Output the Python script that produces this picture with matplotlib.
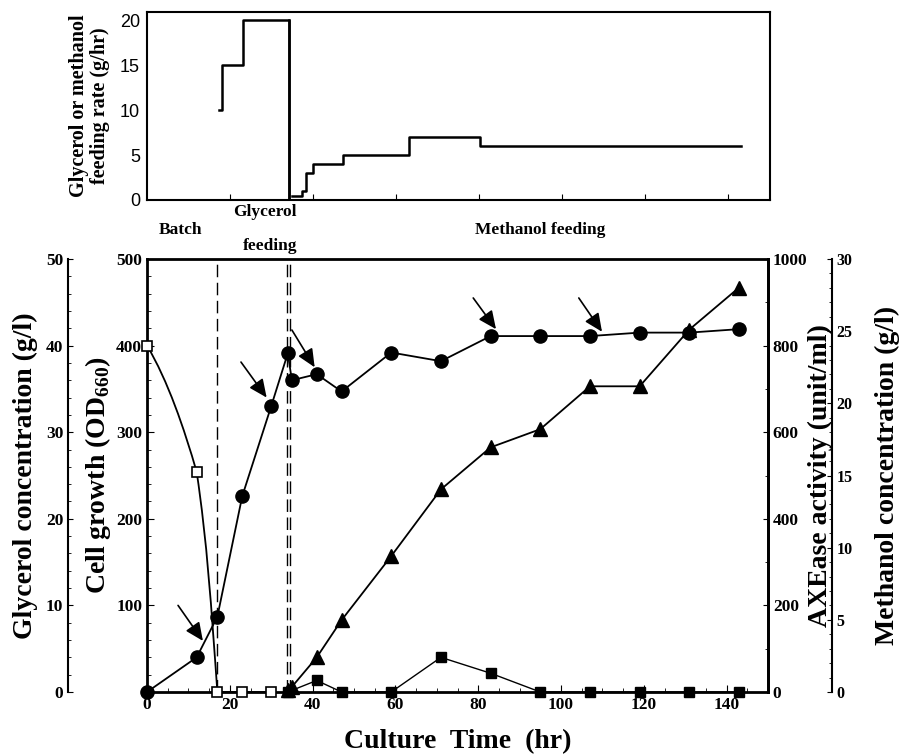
import numpy as np
import matplotlib
matplotlib.use("Agg")
import matplotlib.pyplot as plt
from matplotlib.path import Path
from matplotlib.patches import PathPatch
from matplotlib.ticker import MultipleLocator

# feeding rate steps (top panel)
gly_feed_t = [17.4, 18.0, 23.0, 34.2]
gly_feed_r = [10, 15, 20, 0]
meoh_feed_t = [35.0, 37.3, 38.3, 40.0, 47.3, 63.0, 80.2, 143.0]
meoh_feed_r = [0.5, 1, 3, 4, 5, 7, 6, 6]

# cell growth (OD660)
od_t = [0, 12, 17, 23, 30, 34, 35, 41, 47, 59, 71, 83, 95, 107, 119, 131, 143]
od_v = [0, 40, 87, 226, 330, 391, 360, 367, 347, 392, 382, 411, 411, 411, 415, 415, 419]

# AXEase activity (unit/ml)
axe_t = [34, 35, 41, 47, 59, 71, 83, 95, 107, 119, 131, 143]
axe_v = [5, 12, 80, 166, 314, 468, 565, 607, 706, 706, 837, 934]

# methanol concentration (g/l)
meoh_t = [34, 41, 47, 59, 71, 83, 95, 107, 119, 131, 143]
meoh_v = [0, 0.8, 0, 0, 2.4, 1.3, 0, 0, 0, 0, 0]

# glycerol concentration (g/l)
gly_t = [0, 12, 17, 23, 30]
gly_v = [40, 25.4, 0, 0, 0]

# phase boundaries
phase_lines = [17, 33.7, 34.5]

# arrows (start, tip) in time / OD coordinates
arrows = [((7.5, 100), (13.5, 59)), ((22.7, 381), (28.9, 340)),
          ((35.0, 418), (40.5, 375)), ((78.8, 455), (84.3, 419)),
          ((104.3, 455), (109.9, 416))]

serif = "Liberation Serif"
sans = "Liberation Sans"
plt.rcParams["mathtext.fontset"] = "custom"
plt.rcParams["mathtext.rm"] = "Liberation Serif:bold"
plt.rcParams["mathtext.bf"] = "Liberation Serif:bold"
W, H = 911, 756
lab_kw = dict(fontfamily=serif, fontweight="bold", fontsize=20)

fig = plt.figure(figsize=(W / 100, H / 100), dpi=100)

# ---- top panel: feeding rate
axt = fig.add_axes([147 / W, 1 - 200 / H, 623 / W, 188 / H])
axt.step(gly_feed_t, gly_feed_r, where="post", color="k", lw=1.8)
axt.plot([gly_feed_t[-1], gly_feed_t[-1]], [gly_feed_r[-2], 0], color="k", lw=1.8)
axt.step(meoh_feed_t, meoh_feed_r, where="post", color="k", lw=1.8)
axt.set_xlim(0, 150)
axt.set_ylim(0, 20.9)
axt.set_xticks(range(20, 141, 20))
axt.set_xticklabels([])
axt.set_yticks([0, 5, 10, 15, 20])
axt.tick_params(axis="x", direction="in", length=4)
axt.tick_params(axis="y", direction="out", length=0, labelsize=13, pad=5)
for lab in axt.get_yticklabels():
    lab.set_fontfamily(sans)
for s in axt.spines.values():
    s.set_linewidth(1.5)
axt.set_ylabel("Glycerol or methanol\nfeeding rate (g/hr)", fontfamily=serif,
               fontweight="bold", fontsize=14.5, linespacing=1.1, labelpad=7)

# ---- main panel
ax = fig.add_axes([147 / W, 1 - 692 / H, 621 / W, 433 / H])
ax.set_xlim(0, 150)
ax.set_ylim(0, 500)
for x in phase_lines:
    ax.axvline(x, color="k", lw=1, dashes=(9, 4))
ax.plot(od_t, od_v, color="k", lw=1.3, marker="o", ms=9.5, zorder=5, clip_on=False)
for start, tip in arrows:
    ax.annotate("", xy=tip, xytext=start,
                arrowprops=dict(arrowstyle="-|>,head_length=0.55,head_width=0.25",
                                color="k", lw=1.2, mutation_scale=20,
                                shrinkA=0, shrinkB=0))
ax.set_xticks(range(0, 141, 20))
ax.xaxis.set_minor_locator(MultipleLocator(5))
ax.set_yticks(range(0, 501, 100))
ax.set_yticklabels(["", "100", "200", "300", "400", "500"])
ax.yaxis.set_minor_locator(MultipleLocator(20))
ax.tick_params(which="both", direction="in", labelsize=12.5)
ax.tick_params(which="major", length=5)
ax.tick_params(which="minor", length=3)
for lab in ax.get_xticklabels() + ax.get_yticklabels():
    lab.set_fontfamily(serif)
    lab.set_fontweight("bold")
for s in ax.spines.values():
    s.set_linewidth(2)
ax.set_xlabel("Culture  Time  (hr)", fontfamily=serif, fontweight="bold",
              fontsize=20, labelpad=12)
ax.set_ylabel("Cell growth (OD$_{660}$)", labelpad=2, **lab_kw)

# AXEase axis (right)
axa = ax.twinx()
axa.set_ylim(0, 1000)
axa.plot(axe_t, axe_v, color="k", lw=1.3, marker="^", ms=9.5, zorder=5, clip_on=False)
axa.yaxis.set_major_locator(MultipleLocator(200))
axa.yaxis.set_minor_locator(MultipleLocator(100))
axa.tick_params(which="both", direction="in", labelsize=12.5)
for lab in axa.get_yticklabels():
    lab.set_fontfamily(serif)
    lab.set_fontweight("bold")
for s in axa.spines.values():
    s.set_visible(False)
axa.spines["right"].set_visible(True)
axa.spines["right"].set_linewidth(2)
axa.set_ylabel("AXEase activity (unit/ml)", labelpad=0, **lab_kw)

# methanol concentration axis (far right)
axm = ax.twinx()
axm.set_ylim(0, 30)
axm.plot(meoh_t, meoh_v, color="k", lw=1, marker="s", ms=6.5, zorder=5, clip_on=False)
axm.spines["right"].set_position(("axes", 1.103))
for s in ["left", "top", "bottom"]:
    axm.spines[s].set_visible(False)
axm.spines["right"].set_linewidth(1.5)
axm.yaxis.set_major_locator(MultipleLocator(5))
axm.yaxis.set_minor_locator(MultipleLocator(1))
axm.tick_params(which="both", direction="in", labelsize=11.5)
for lab in axm.get_yticklabels():
    lab.set_fontfamily(serif)
    lab.set_fontweight("bold")
axm.set_ylabel("Methanol concentration (g/l)", labelpad=16, **lab_kw)

# glycerol concentration axis (far left)
axg = ax.twinx()
axg.set_ylim(0, 50)
axg.yaxis.tick_left()
axg.yaxis.set_label_position("left")
axg.spines["left"].set_position(("axes", -0.127))
axg.spines["left"].set_visible(True)
for s in ["right", "top", "bottom"]:
    axg.spines[s].set_visible(False)
axg.spines["left"].set_linewidth(1.5)
axg.yaxis.set_major_locator(MultipleLocator(10))
axg.yaxis.set_minor_locator(MultipleLocator(2))
axg.tick_params(which="both", direction="in", labelsize=12.5)
for lab in axg.get_yticklabels():
    lab.set_fontfamily(serif)
    lab.set_fontweight("bold")
axg.set_ylabel("Glycerol concentration (g/l)", labelpad=6, **lab_kw)

# smooth glycerol depletion curve through the first three points
p0, p1, p2 = [(gly_t[i], gly_v[i]) for i in range(3)]
verts = [p0, (p0[0] + 5, p0[1] - 4), (p1[0] - 3, p1[1] + 5), p1,
         (p1[0] + 2.5, p1[1] - 8), (p2[0] - 1.5, p2[1] + 10), p2, (gly_t[-1], 0)]
codes = [Path.MOVETO, Path.CURVE4, Path.CURVE4, Path.CURVE4,
         Path.CURVE4, Path.CURVE4, Path.CURVE4, Path.LINETO]
axg.add_patch(PathPatch(Path(verts, codes), fill=False, color="k", lw=1.3))
axg.plot(gly_t, gly_v, ls="none", marker="s", ms=6.5, mfc="white", mec="k",
         mew=1.2, zorder=5, clip_on=False)

# phase annotations
txt = dict(fontfamily=serif, fontweight="bold", fontsize=12.5, ha="center", va="center")
fig.text(180 / W, 1 - 230 / H, "Batch", **txt)
fig.text(265 / W, 1 - 212 / H, "Glycerol", **txt)
fig.text(270 / W, 1 - 246 / H, "feeding", **txt)
fig.text(540 / W, 1 - 230 / H, "Methanol feeding", **txt)

fig.savefig("out.png", dpi=100)
